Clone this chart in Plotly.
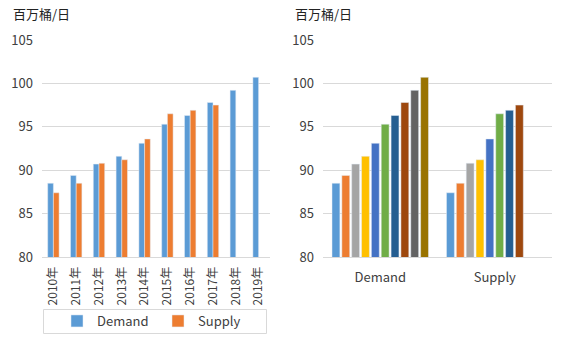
import plotly.graph_objects as go

years = ["2010年", "2011年", "2012年", "2013年", "2014年", "2015年", "2016年", "2017年", "2018年", "2019年"]
demand = [88.5, 89.4, 90.7, 91.6, 93.1, 95.3, 96.3, 97.8, 99.2, 100.7]
supply = [87.4, 88.5, 90.8, 91.2, 93.6, 96.5, 96.9, 97.5, None, None]
groups = ["Demand", "Supply"]
year_colors = ["#5B9BD5", "#ED7D31", "#A5A5A5", "#FFC000", "#4472C4",
               "#70AD47", "#255E91", "#9E480E", "#636363", "#997300"]
unit = "百万桶/日"
yticks = [80, 85, 90, 95, 100, 105]

W, H = 566, 340
FONT = "Noto Sans CJK SC, Microsoft YaHei, sans-serif"
TXT = "#404040"
GRID = "#D9D9D9"

fig = go.Figure()

# Left chart: Demand vs Supply by year
fig.add_trace(go.Bar(x=years, y=demand, name="Demand", marker_color="#5B9BD5",
                     width=0.25, offset=-0.25, xaxis="x", yaxis="y"))
fig.add_trace(go.Bar(x=years, y=supply, name="Supply", marker_color="#ED7D31",
                     width=0.25, offset=0.0, xaxis="x", yaxis="y"))

# Right chart: per-year bars grouped by Demand / Supply
for i, yr in enumerate(years):
    fig.add_trace(go.Bar(x=groups, y=[demand[i], supply[i]], name=yr,
                         marker_color=year_colors[i], showlegend=False,
                         xaxis="x2", yaxis="y2"))

def px_x(p):
    return p / W

def px_y(p):
    return 1 - p / H

yax = dict(range=[80, 105], tickvals=yticks, showgrid=True, gridcolor=GRID,
           gridwidth=1, zeroline=False, showline=False, ticks="", automargin=False,
           tickfont=dict(family=FONT, size=13, color=TXT), ticklabelstandoff=8)

fig.update_layout(
    width=W, height=H,
    margin=dict(l=0, r=0, t=0, b=0, autoexpand=False),
    paper_bgcolor="white", plot_bgcolor="white",
    barmode="group", bargap=0.14, bargroupgap=0.2,
    font=dict(family=FONT, color=TXT),
    xaxis=dict(domain=[px_x(42), px_x(270)], anchor="y", type="category",
               tickangle=-90, showline=True, linecolor=GRID, linewidth=1,
               ticks="", automargin=False, ticklabelstandoff=4,
               tickfont=dict(family=FONT, size=12, color=TXT)),
    yaxis=dict(domain=[px_y(257), px_y(40)], anchor="x", **yax),
    xaxis2=dict(domain=[px_x(323), px_x(552)], anchor="y2", type="category",
                showline=True, linecolor=GRID, linewidth=1, ticks="",
                automargin=False, ticklabelstandoff=8,
                tickfont=dict(family=FONT, size=13, color=TXT)),
    yaxis2=dict(domain=[px_y(257), px_y(40)], anchor="x2", **yax),
    showlegend=True,
    legend=dict(orientation="h", x=px_x(57), y=px_y(321), yanchor="middle",
                xanchor="left", entrywidth=56, bgcolor="rgba(0,0,0,0)",
                font=dict(family=FONT, size=13, color=TXT),
                itemwidth=30, tracegroupgap=0),
    shapes=[dict(type="rect", xref="paper", yref="paper",
                 x0=px_x(43.5), x1=px_x(266.5), y0=px_y(309.5), y1=px_y(333.5),
                 line=dict(color=GRID, width=1), fillcolor="rgba(0,0,0,0)")],
    annotations=[
        dict(text=unit, x=px_x(11), y=px_y(14), xref="paper", yref="paper",
             xanchor="left", yanchor="middle", showarrow=False,
             font=dict(family=FONT, size=13, color="#222222")),
        dict(text=unit, x=px_x(293), y=px_y(14), xref="paper", yref="paper",
             xanchor="left", yanchor="middle", showarrow=False,
             font=dict(family=FONT, size=13, color="#222222")),
    ],
)

fig.write_html("out.html")
